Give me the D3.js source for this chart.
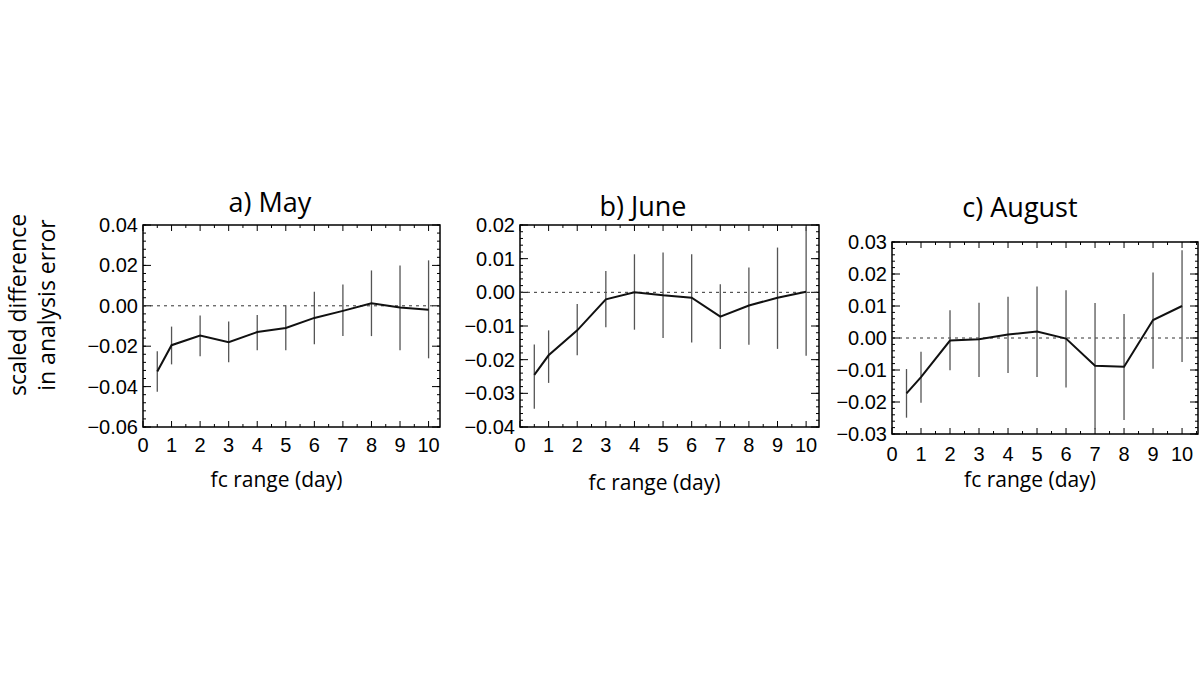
<!DOCTYPE html>
<html><head><meta charset="utf-8">
<script src="https://cdn.jsdelivr.net/npm/d3@7"></script>
<style>body{margin:0;background:#fff}</style>
</head><body>
<svg id="chart" width="1200" height="675"></svg>
<script>
// forecast range (day)
const days = [0.5, 1, 2, 3, 4, 5, 6, 7, 8, 9, 10];

// May
const mayMean = [-0.0325, -0.0195, -0.0147, -0.018, -0.013, -0.011, -0.006, -0.0025, 0.0013, -0.0008, -0.002];
const mayHi   = [-0.0225, -0.0103, -0.0048, -0.0078, -0.0045, 0.0003, 0.007, 0.0105, 0.0175, 0.02, 0.0225];
const mayLo   = [-0.0425, -0.029, -0.025, -0.028, -0.022, -0.022, -0.019, -0.015, -0.015, -0.022, -0.026];

// June
const junMean = [-0.0245, -0.0187, -0.0113, -0.0021, 0, -0.0009, -0.0016, -0.0072, -0.0039, -0.0016, 0.0002];
const junHi   = [-0.0155, -0.0113, -0.0035, 0.0063, 0.0113, 0.0118, 0.0113, 0.0024, 0.0074, 0.0133, 0.0194];
const junLo   = [-0.0346, -0.0269, -0.0187, -0.0104, -0.0111, -0.0136, -0.0149, -0.0168, -0.0156, -0.0168, -0.0188];

// August
const augMean = [-0.0173, -0.0122, -0.0008, -0.0004, 0.0011, 0.002, -0.0002, -0.0087, -0.009, 0.0056, 0.01];
const augHi   = [-0.0097, -0.0043, 0.0087, 0.011, 0.0129, 0.0161, 0.0149, 0.0109, 0.0075, 0.0205, 0.0274];
const augLo   = [-0.0249, -0.0202, -0.0101, -0.0122, -0.0109, -0.0122, -0.0155, -0.0285, -0.0256, -0.0096, -0.0075];

const xTicks = [0, 1, 2, 3, 4, 5, 6, 7, 8, 9, 10];
const mayTicks = [0.04, 0.02, 0.00, -0.02, -0.04, -0.06];
const junTicks = [0.02, 0.01, 0.00, -0.01, -0.02, -0.03, -0.04];
const augTicks = [0.03, 0.02, 0.01, 0.00, -0.01, -0.02, -0.03];

const panels = [
    { title: "a) May", mean: mayMean, hi: mayHi, lo: mayLo, ticks: mayTicks, minorStep: 0.004,
      left: 143, right: 440, top: 225, bottom: 427, xMax: 10.4, tx: 270, ty: 212, lblY: 452, axY: 487 },
    { title: "b) June", mean: junMean, hi: junHi, lo: junLo, ticks: junTicks, minorStep: 0.002,
      left: 520, right: 819, top: 225, bottom: 427, xMax: 10.45, tx: 643, ty: 216, lblY: 452, axY: 490 },
    { title: "c) August", mean: augMean, hi: augHi, lo: augLo, ticks: augTicks, minorStep: 0.002,
      left: 892, right: 1198, top: 242, bottom: 434, xMax: 10.55, tx: 1020, ty: 217, lblY: 461, axY: 487 }
];

const svg = d3.select("#chart");
const fmt = d => d3.format(".2f")(d).replace("-", "\u2212");

panels.forEach(p => {
    const yMin = d3.min(p.ticks), yMax = d3.max(p.ticks);
    const x = d3.scaleLinear().domain([0, p.xMax]).range([p.left, p.right]);
    const y = d3.scaleLinear().domain([yMin, yMax]).range([p.bottom, p.top]);
    const g = svg.append("g");

    // minor/major ticks, inward on all four sides
    const xMinor = d3.range(0, p.xMax, 0.5);
    const yMinor = d3.range(yMin, yMax + 1e-9, p.minorStep);
    xMinor.forEach(v => {
        const len = Number.isInteger(v) ? 6 : 3;
        g.append("line").attr("x1", x(v)).attr("x2", x(v)).attr("y1", p.bottom).attr("y2", p.bottom - len).attr("stroke", "#000");
        g.append("line").attr("x1", x(v)).attr("x2", x(v)).attr("y1", p.top).attr("y2", p.top + len).attr("stroke", "#000");
    });
    yMinor.forEach(v => {
        g.append("line").attr("x1", p.left).attr("x2", p.left + 3).attr("y1", y(v)).attr("y2", y(v)).attr("stroke", "#000");
        g.append("line").attr("x1", p.right).attr("x2", p.right - 3).attr("y1", y(v)).attr("y2", y(v)).attr("stroke", "#000");
    });
    p.ticks.forEach(v => {
        g.append("line").attr("x1", p.left).attr("x2", p.left + 8).attr("y1", y(v)).attr("y2", y(v)).attr("stroke", "#000");
        g.append("line").attr("x1", p.right).attr("x2", p.right - 8).attr("y1", y(v)).attr("y2", y(v)).attr("stroke", "#000");
    });

    // frame
    g.append("rect").attr("x", p.left).attr("y", p.top)
        .attr("width", p.right - p.left).attr("height", p.bottom - p.top)
        .attr("fill", "none").attr("stroke", "#000").attr("stroke-width", 1.5);

    // zero line
    g.append("line").attr("x1", p.left).attr("x2", p.right).attr("y1", y(0)).attr("y2", y(0))
        .attr("stroke", "#333").attr("stroke-dasharray", "3,4");

    // tick labels
    g.selectAll(".yl").data(p.ticks).enter().append("text")
        .attr("x", p.left - 5).attr("y", d => y(d) + 7)
        .attr("text-anchor", "end").style("font", "20px 'Liberation Sans', Arial").text(fmt);
    g.selectAll(".xl").data(xTicks).enter().append("text")
        .attr("x", d => x(d)).attr("y", p.lblY)
        .attr("text-anchor", "middle").style("font", "20px 'Liberation Sans', Arial").text(d => d);

    // error bars
    days.forEach((d, i) => {
        g.append("line").attr("x1", x(d)).attr("x2", x(d))
            .attr("y1", y(p.lo[i])).attr("y2", y(p.hi[i]))
            .attr("stroke", "#555").attr("stroke-width", 1.3);
    });

    // mean line
    g.append("path").datum(days.map((d, i) => [d, p.mean[i]]))
        .attr("d", d3.line().x(d => x(d[0])).y(d => y(d[1])))
        .attr("fill", "none").attr("stroke", "#111").attr("stroke-width", 2);

    // titles
    g.append("text").attr("x", p.tx).attr("y", p.ty).attr("text-anchor", "middle")
        .style("font", "27px 'Open Sans', sans-serif").text(p.title);
    g.append("text").attr("x", (p.left + p.right) / 2 - 15).attr("y", p.axY).attr("text-anchor", "middle")
        .style("font", "21px 'Open Sans', sans-serif").text("fc range (day)");
});

// shared y-axis title
const yt = svg.append("text").attr("transform", "translate(30,305) rotate(-90)")
    .attr("text-anchor", "middle").style("font", "23px 'Open Sans', sans-serif");
yt.append("tspan").attr("x", 0).attr("dy", -4).text("scaled difference");
yt.append("tspan").attr("x", 0).attr("dy", 29).text("in analysis error");
</script>
</body></html>
